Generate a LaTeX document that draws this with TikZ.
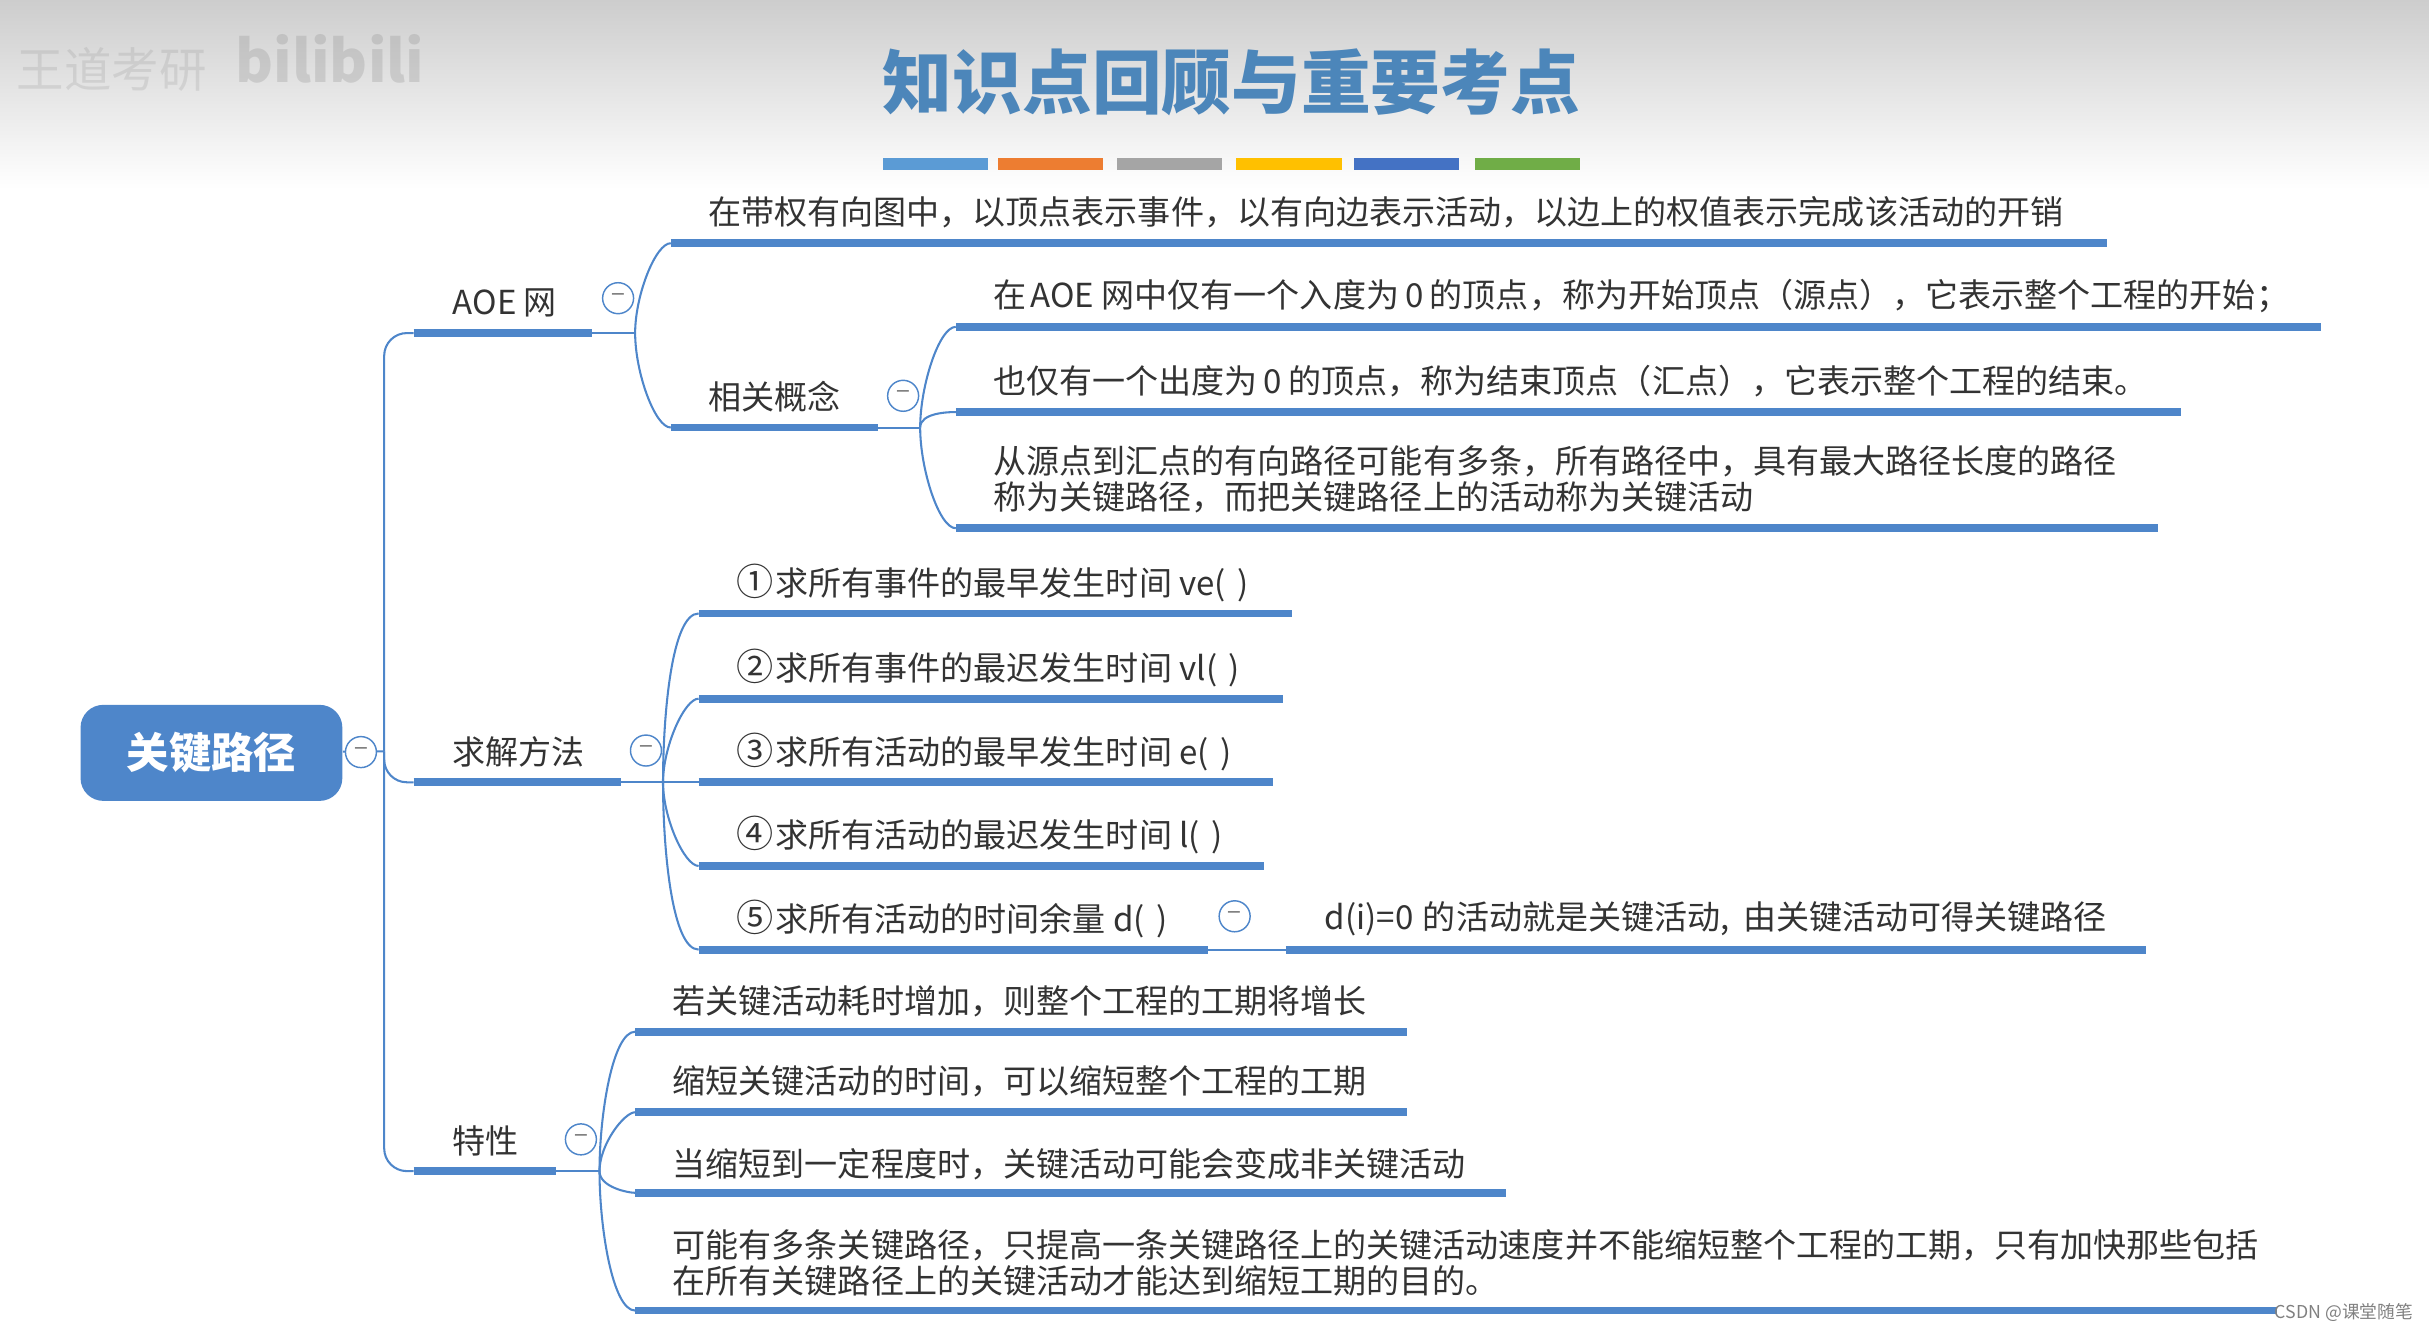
\documentclass[tikz,border=0pt]{standalone}
\usepackage{fontspec}
\setmainfont{Noto Sans CJK SC}
\definecolor{mapblue}{HTML}{4E86CA}
\definecolor{titleblue}{HTML}{4C86BA}
\definecolor{hdrgray}{HTML}{CDCDCD}
\newcommand{\cnum}[1]{{\fontsize{18}{17}\selectfont #1}\hspace{1pt}}
\tikzset{
    bar/.style={mapblue, line width=3.8pt, yshift=0.4pt},
    link/.style={mapblue, line width=1pt},
    upbranch/.style={out=90,in=180,in looseness=0.4},
    downbranch/.style={out=-90,in=180,in looseness=0.4},
    item/.style={anchor=west, inner sep=0pt, align=left, text=black!80, yshift=-1pt,
        font=\fontsize{16}{17.25}\selectfont},
    fold/.style={circle, draw=mapblue, fill=white, line width=0.7pt, minimum size=15pt,
        inner sep=0pt, text=gray, font=\fontsize{12}{12}\selectfont},
    swatch/.style={minimum width=51pt, minimum height=6pt, inner sep=0pt},
}
\begin{document}
\begin{tikzpicture}[x=0.75pt, y=-0.75pt]
    \useasboundingbox (0,0) rectangle (1568,859);
    \shade[top color=hdrgray, bottom color=white] (0,0) rectangle (1568,122);

    \node[inner sep=0pt, text=titleblue, font=\fontsize{33.75}{36}\selectfont\bfseries] (title) at (795,53) {知识点回顾与重要考点};
    \foreach \n/\x/\c in {a/604/5B9BD5, b/678/ED7D31, c/755/A5A5A5, d/832/FFC000, e/908/4472C4, f/986/70AD47} {
        \definecolor{swatchcolor}{HTML}{\c}
        \node[swatch, fill=swatchcolor] (sw\n) at (\x,106) {};
    }

    \node[inner sep=0pt, text=gray, opacity=0.18, font=\fontsize{23}{23}\selectfont] (wmark) at (72,45) {王道考研};
    \node[inner sep=0pt, text=gray, opacity=0.24, font=\fontsize{28}{28}\selectfont\bfseries] (wlogo) at (213,38) {bilibili};

    % root
    \node[fill=mapblue, rounded corners=11pt, minimum width=126.75pt, minimum height=46.5pt, inner sep=0pt,
        text=white, font=\fontsize{20.5}{22}\selectfont\bfseries] (root) at (136.5,486) {关键路径};

    % bars, with their end points
    \foreach \n/\xa/\xb/\y in {
        aoe/267/382/215, sol/267/401/505, pro/267/359/756,
        def/433/1360/157, con/433/567/276,
        cona/617/1498/211, conb/617/1408/266, conc/617/1393/341,
        sola/451/834/396, solb/451/828/451, solc/451/822/505, sold/451/816/559, sole/451/780/613,
        key/830/1385/613,
        proa/410/908/666, prob/410/908/718, proc/410/972/770, prod/410/1470/846} {
        \coordinate (\n-a) at (\xa,\y);
        \coordinate (\n-b) at (\xb,\y);
        \draw[bar] (\n-a) -- (\n-b);
    }

    \coordinate (jroot) at (248,485);
    \coordinate (jaoe) at (410,215);
    \coordinate (jcon) at (594,276);
    \coordinate (jsol) at (428,505);
    \coordinate (jpro) at (387,756);

    % connectors
    \draw[link] (root) -- (jroot);
    \foreach \n in {aoe,sol,pro} {\draw[link, rounded corners=11pt] (jroot) |- (\n-a);}
    \draw[link] (aoe-b) -- (jaoe);
    \draw[link] (con-b) -- (jcon);
    \draw[link] (sol-b) -- (jsol) -- (solc-a);
    \draw[link] (pro-b) -- (jpro);
    \draw[link] (jaoe) to[upbranch] (def-a);
    \draw[link] (jaoe) to[downbranch] (con-a);
    \draw[link] (jcon) to[upbranch] (cona-a);
    \draw[link] (jcon) to[upbranch] (conb-a);
    \draw[link] (jcon) to[downbranch] (conc-a);
    \foreach \n in {sola,solb} {\draw[link] (jsol) to[upbranch] (\n-a);}
    \foreach \n in {sold,sole} {\draw[link] (jsol) to[downbranch] (\n-a);}
    \foreach \n in {proa,prob} {\draw[link] (jpro) to[upbranch] (\n-a);}
    \foreach \n in {proc,prod} {\draw[link] (jpro) to[downbranch] (\n-a);}
    \draw[link] (sole-b) -- (key-a);

    % fold marks
    \foreach \n/\x/\y in {froot/233/485.5, faoe/399/192.5, fcon/583/255.5, fsol/417/484.5, fkey/797/591.5, fpro/375/735.5} {
        \node[fold] (\n) at (\x,\y) {−};
    }

    % labels
    \foreach \n/\x/\y/\txt in {
        taoe/292/194/{AOE 网},
        tsol/292/484/{求解方法},
        tpro/292/735/{特性},
        tdef/457/136/{在带权有向图中，以顶点表示事件，以有向边表示活动，以边上的权值表示完成该活动的开销},
        tcon/457/255/{相关概念},
        tcona/641/190/{在\hspace{2pt}AOE 网中仅有一个入度为\hspace{3pt}0\hspace{3pt}的顶点，称为开始顶点（源点），它表示整个工程的开始；},
        tconb/641/245/{也仅有一个出度为\hspace{3pt}0\hspace{3pt}的顶点，称为结束顶点（汇点），它表示整个工程的结束。},
        tconc/641/308/{从源点到汇点的有向路径可能有多条，所有路径中，具有最大路径长度的路径\\称为关键路径，而把关键路径上的活动称为关键活动},
        tsola/475/375/{\cnum{①}求所有事件的最早发生时间 ve(\hspace{2pt} )},
        tsolb/475/430/{\cnum{②}求所有事件的最迟发生时间 vl(\hspace{2pt} )},
        tsolc/475/484/{\cnum{③}求所有活动的最早发生时间 e(\hspace{2pt} )},
        tsold/475/538/{\cnum{④}求所有活动的最迟发生时间 l(\hspace{2pt} )},
        tsole/475/592/{\cnum{⑤}求所有活动的时间余量 d(\hspace{2pt} )},
        tkey/855/592/{d(i)=0\hspace{1pt} 的活动就是关键活动,\hspace{3pt} 由关键活动可得关键路径},
        tproa/434/645/{若关键活动耗时增加，则整个工程的工期将增长},
        tprob/434/697/{缩短关键活动的时间，可以缩短整个工程的工期},
        tproc/434/750/{当缩短到一定程度时，关键活动可能会变成非关键活动},
        tprod/434/814/{可能有多条关键路径，只提高一条关键路径上的关键活动速度并不能缩短整个工程的工期，只有加快那些包括\\在所有关键路径上的关键活动才能达到缩短工期的目的。}} {
        \node[item] (\n) at (\x,\y) {\txt};
    }

    \node[anchor=east, inner sep=0pt, text=gray, font=\fontsize{8.6}{9}\selectfont] (csdn) at (1558,847) {CSDN @课堂随笔};
\end{tikzpicture}
\end{document}
